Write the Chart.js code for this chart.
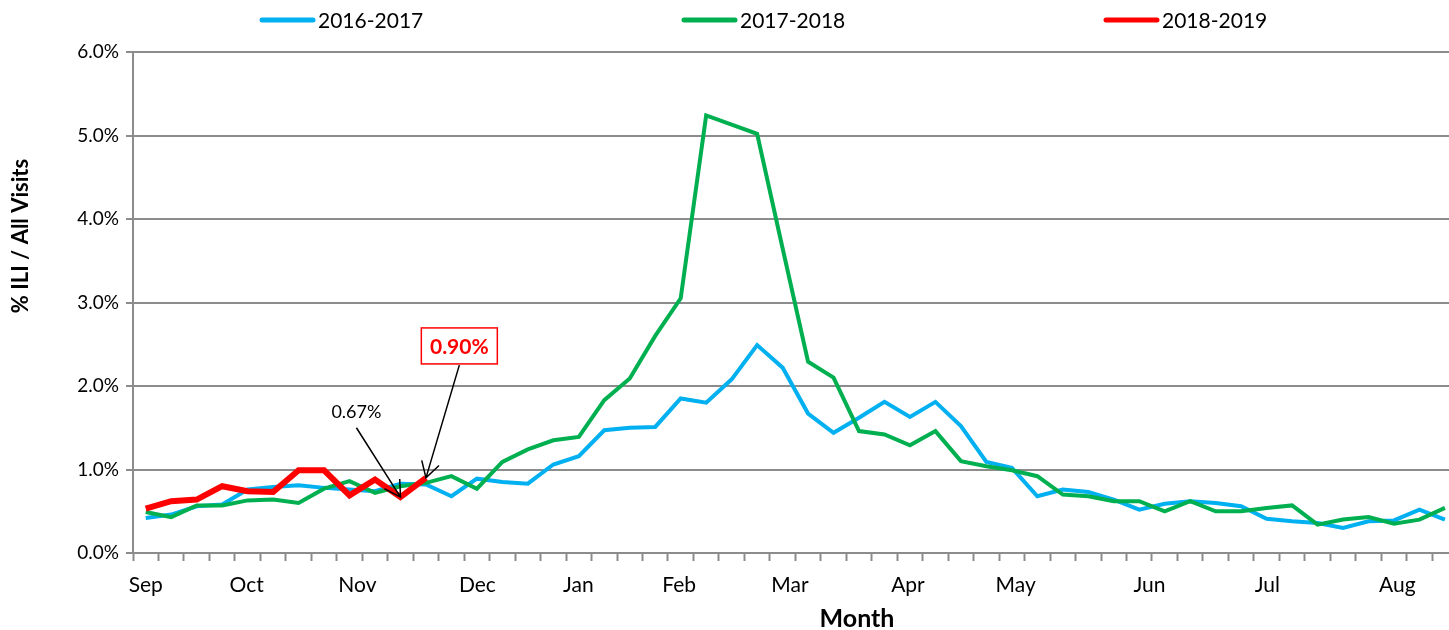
<!DOCTYPE html>
<html>
<head>
<meta charset="utf-8">
<title>% ILI / All Visits</title>
<style>
  html, body { margin: 0; padding: 0; background: #fff; }
  #wrap { width: 1449px; height: 630px; }
</style>
</head>
<body>
<div id="wrap"><canvas id="myChart"></canvas></div>

<script src="https://cdn.jsdelivr.net/npm/chart.js"></script>

<script>
  // month labels and the week (0 = first week of Sep) where each label sits
  const months = ['Sep', 'Oct', 'Nov', 'Dec', 'Jan', 'Feb', 'Mar', 'Apr', 'May', 'Jun', 'Jul', 'Aug'];
  const monthWeek = [0, 3.96, 8.31, 13.02, 16.98, 20.94, 25.29, 29.92, 34.15, 39.4, 44.03, 49.13];

  const seasons = ['2016-2017', '2017-2018', '2018-2019'];

  // weekly % ILI
  const ili1617 = [0.42, 0.46, 0.56, 0.58, 0.76, 0.79, 0.81, 0.78, 0.76, 0.74, 0.83, 0.82, 0.68, 0.89, 0.85,
                   0.83, 1.06, 1.16, 1.47, 1.50, 1.51, 1.85, 1.80, 2.08, 2.49, 2.22, 1.67, 1.44, 1.62, 1.81,
                   1.63, 1.81, 1.52, 1.09, 1.02, 0.68, 0.76, 0.73, 0.64, 0.52, 0.59, 0.62, 0.60, 0.56, 0.41,
                   0.38, 0.36, 0.30, 0.38, 0.39, 0.52, 0.40];
  const ili1718 = [0.49, 0.43, 0.57, 0.57, 0.63, 0.64, 0.60, 0.77, 0.86, 0.72, 0.80, 0.84, 0.92, 0.77, 1.09,
                   1.24, 1.35, 1.39, 1.83, 2.09, 2.60, 3.05, 5.24, 5.13, 5.02, 3.65, 2.29, 2.10, 1.46, 1.42,
                   1.29, 1.46, 1.10, 1.04, 0.99, 0.92, 0.70, 0.68, 0.62, 0.62, 0.50, 0.62, 0.50, 0.50, 0.54,
                   0.57, 0.34, 0.40, 0.43, 0.35, 0.40, 0.54];
  const ili1819 = [0.53, 0.62, 0.64, 0.80, 0.74, 0.73, 0.99, 0.99, 0.69, 0.88, 0.67, 0.90];

  const yMax = 6;

  const colors = ['#00B0F0', '#00B050', '#FF0000'];
  const gridGray = '#8c8c8c';

  Chart.defaults.font.family = 'Lato, "Open Sans", sans-serif';
  Chart.defaults.color = '#000';

  // the source chart is cut off at the right edge, just past the last week
  const xMax = ili1617.length - 1 + 0.16;

  // callouts: week / value where the label sits, and which red point the arrow hits
  const callouts = [
    { text: '0.67%', week: 8.27, value: 1.70, tailValue: 1.50, target: 10, boxed: false },
    { text: '0.90%', week: 12.31, value: 2.48, tailValue: 2.25, target: 11, boxed: true }
  ];

  function arrow(c, x1, y1, x2, y2) {
    const a = Math.atan2(y2 - y1, x2 - x1);
    const h = 18, s = Math.PI / 6;
    c.beginPath();
    c.moveTo(x1, y1);
    c.lineTo(x2, y2);
    c.moveTo(x2 - h * Math.cos(a - s), y2 - h * Math.sin(a - s));
    c.lineTo(x2, y2);
    c.lineTo(x2 - h * Math.cos(a + s), y2 - h * Math.sin(a + s));
    c.stroke();
  }

  const extras = {
    id: 'extras',
    afterDraw(chart) {
      const c = chart.ctx;
      const xs = chart.scales.x, ys = chart.scales.y;
      c.save();

      // legend
      c.font = '21px Lato';
      c.textBaseline = 'middle';
      c.textAlign = 'left';
      seasons.forEach((s, i) => {
        const x0 = 260 + i * 422;
        c.strokeStyle = colors[i];
        c.lineWidth = 5;
        c.lineCap = 'round';
        c.beginPath();
        c.moveTo(x0 + 2, 20);
        c.lineTo(x0 + 53, 20);
        c.stroke();
        c.fillStyle = '#000';
        c.fillText(s, x0 + 58, 21);
      });
      c.lineCap = 'butt';

      // axis titles
      c.font = 'bold 22px Lato';
      c.textAlign = 'center';
      c.save();
      c.translate(21, 236);
      c.rotate(-Math.PI / 2);
      c.fillText('% ILI / All Visits', 0, 0);
      c.restore();
      c.font = 'bold 25px Lato';
      c.fillText('Month', 857, 619);

      // callouts
      callouts.forEach(o => {
        const lx = xs.getPixelForValue(o.week);
        const ly = ys.getPixelForValue(o.value);
        const tx = xs.getPixelForValue(o.target);
        const ty = ys.getPixelForValue(ili1819[o.target]);
        if (o.boxed) {
          c.font = 'bold 21px Lato';
          c.fillStyle = '#fff';
          c.fillRect(lx - 38, ly - 18, 76, 36);
          c.strokeStyle = '#FF0000';
          c.lineWidth = 1.5;
          c.strokeRect(lx - 38, ly - 18, 76, 36);
          c.fillStyle = '#FF0000';
        } else {
          c.font = '18px Lato';
          c.fillStyle = '#000';
        }
        c.fillText(o.text, lx, ly + 1);
        c.strokeStyle = '#000';
        c.lineWidth = 1.5;
        arrow(c, lx, ys.getPixelForValue(o.tailValue), tx, ty);
      });
      c.restore();
    }
  };

  const ctx = document.getElementById('myChart');
  new Chart(ctx, {
    type: 'line',
    data: {
      labels: ili1617.map((_, i) => i),
      datasets: [
        { label: seasons[0], data: ili1617, borderColor: colors[0], backgroundColor: colors[0], borderWidth: 4, order: 2 },
        { label: seasons[1], data: ili1718, borderColor: colors[1], backgroundColor: colors[1], borderWidth: 4, order: 1 },
        { label: seasons[2], data: ili1819, borderColor: colors[2], backgroundColor: colors[2], borderWidth: 6, order: 0 }
      ]
    },
    options: {
      responsive: true,
      maintainAspectRatio: false,
      animation: false,
      elements: {
        point: { radius: 0, hoverRadius: 0 },
        line: { tension: 0, borderJoinStyle: 'miter' }
      },
      layout: { padding: { top: 52, right: 0, left: 0, bottom: 0 } },
      plugins: {
        legend: { display: false },
        tooltip: { enabled: false }
      },
      scales: {
        x: {
          type: 'linear',
          min: -0.5,
          max: xMax,
          afterBuildTicks: s => {
            const t = [];
            for (let k = 0; k <= ili1617.length; k++) {
              if (k - 0.5 <= xMax) t.push({ value: k - 0.5 });
            }
            monthWeek.forEach(v => t.push({ value: v }));
            t.sort((a, b) => a.value - b.value);
            s.ticks = t;
          },
          afterFit: s => { s.height = 77; },
          ticks: {
            autoSkip: false,
            maxRotation: 0,
            minRotation: 0,
            padding: 12,
            font: { size: 21 },
            callback: v => {
              const i = monthWeek.indexOf(v);
              return i >= 0 ? months[i] : '';
            }
          },
          grid: {
            drawOnChartArea: false,
            tickLength: 8,
            tickWidth: 2,
            tickColor: c => (c.tick && c.tick.label) ? 'rgba(0,0,0,0)' : gridGray
          },
          border: { color: gridGray, width: 2 }
        },
        y: {
          min: 0,
          max: yMax,
          afterFit: s => { s.width = 133; },
          ticks: {
            stepSize: 1,
            padding: 7,
            font: { size: 19 },
            callback: v => v.toFixed(1) + '%'
          },
          grid: {
            color: gridGray,
            lineWidth: 2,
            tickLength: 7
          },
          border: { color: gridGray, width: 2 }
        }
      }
    },
    plugins: [extras]
  });
</script>
</body>
</html>
